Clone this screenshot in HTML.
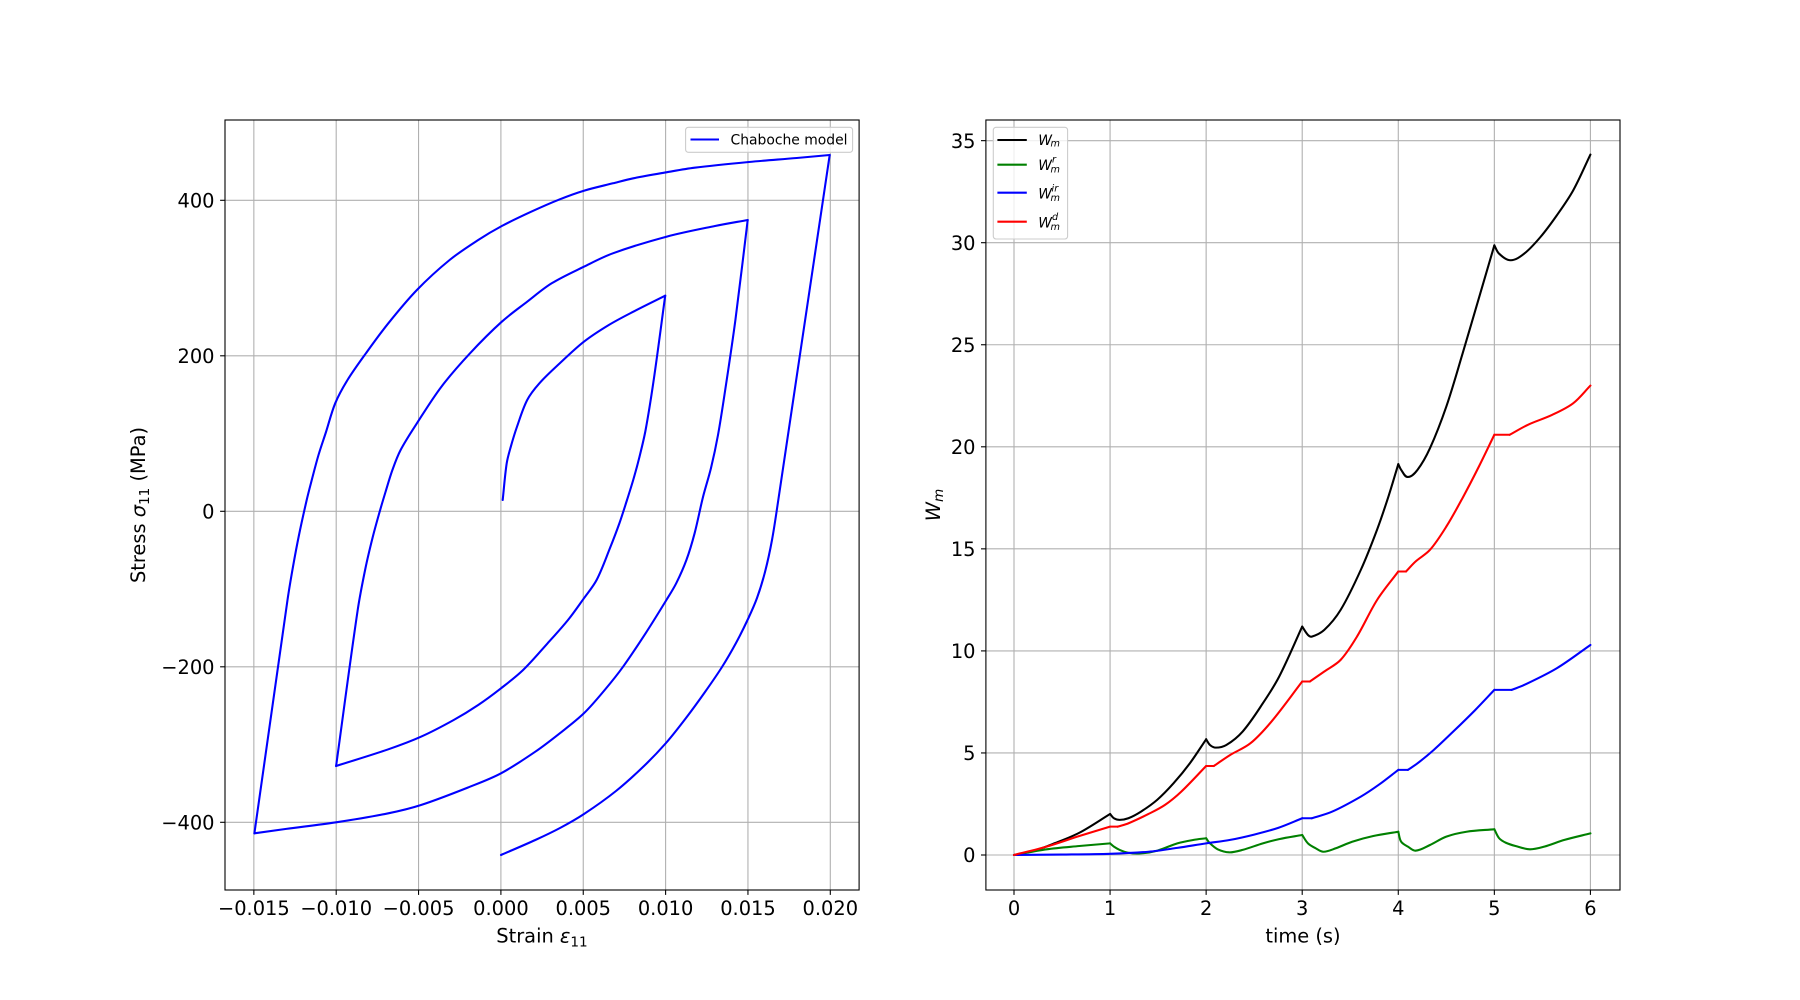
<!DOCTYPE html>
<html>
<head>
<meta charset="utf-8">
<style>
html,body{margin:0;padding:0;background:#fff;}
svg{display:block;}
text{font-family:"DejaVu Sans","Liberation Sans",sans-serif;fill:#000;}
.tk{font-size:19.4px;}
.lg{font-size:13.9px;}
.it{font-style:italic;}
</style>
</head>
<body>
<svg id="fig" width="1800" height="1000" viewBox="0 0 1800 1000" xmlns="http://www.w3.org/2000/svg">
<rect x="0" y="0" width="1800" height="1000" fill="#fff"/>

<!-- ================= LEFT AXES ================= -->
<g stroke="#b0b0b0" stroke-width="1.1" fill="none">
  <line x1="253.85" y1="120" x2="253.85" y2="890"/>
  <line x1="336.2" y1="120" x2="336.2" y2="890"/>
  <line x1="418.55" y1="120" x2="418.55" y2="890"/>
  <line x1="500.9" y1="120" x2="500.9" y2="890"/>
  <line x1="583.25" y1="120" x2="583.25" y2="890"/>
  <line x1="665.6" y1="120" x2="665.6" y2="890"/>
  <line x1="747.95" y1="120" x2="747.95" y2="890"/>
  <line x1="830.3" y1="120" x2="830.3" y2="890"/>
  <line x1="225" y1="822.3" x2="859.1" y2="822.3"/>
  <line x1="225" y1="666.8" x2="859.1" y2="666.8"/>
  <line x1="225" y1="511.3" x2="859.1" y2="511.3"/>
  <line x1="225" y1="355.8" x2="859.1" y2="355.8"/>
  <line x1="225" y1="200.3" x2="859.1" y2="200.3"/>
</g>

<g id="lg" fill="none" stroke="#0000ff" stroke-width="2.08" stroke-linejoin="round" stroke-linecap="round">
<polyline points="502.7,500 506.7,463.3 510.8,446.7 517,426.7 527.2,400 539.4,383.3 559.8,363.3 583.9,341.7 608.8,325 633.3,311.7 665.2,295.7"/>
<polyline points="665.2,295.7 653.7,380 645.6,430 639.5,456.7 633.5,479 627,500 619.5,523 610,548 596.6,580 583.9,598.3 568,620 547.6,643.3 523.1,670 501,688.3 478.2,705 453.7,720 421,736.7 388.3,749.3 336.1,766"/>
<polyline points="336.1,766 357.7,610 365.5,568 372.5,538 379,514 385.5,492 392.4,470 400.6,450 416.9,423.3 441.4,386.7 470,353.3 501.8,321.7 527.2,301.7 551.7,283.3 583.9,266.7 612.9,253.3 666.4,236.7 715,226 747.7,220"/>
<polyline points="747.7,220 735.4,320 725.2,390 718,435 711,468 703,497 694.6,533.3 686.4,560 676.2,583.3 666.4,600 645.6,633.3 623.1,666.7 604.7,690 583.9,713.3 559.8,733.3 535.3,751.7 501,773.3 470,786.7 421,805 388.3,813.3 336.1,822.3 286.3,828.9 254.4,833.3"/>
<polyline points="254.4,833.3 287.5,600 293,566.7 299,535 306.7,500 311.5,481 318.5,455 326,432 335.2,403.3 347.5,380 365.9,353.3 388.3,323.3 416.9,290 449.6,260 478.2,240 501.8,226 531.2,211.7 559.8,199.3 583.9,190.7 612.9,183.3 633.3,178.3 666.4,172.3 694.6,167.7 748.9,162 796.7,158 829.7,155"/>
<polyline points="829.7,155 778.3,500 772,540 765,572 757,598 748,619 736,643 722,667 705,692 686,718 666,743 644,766 616,791 584,814 560,828 535.3,840 501,855"/>
</g>

<rect x="225" y="120" width="634.1" height="770" fill="none" stroke="#000" stroke-width="1.1"/>

<!-- ticks left -->
<g stroke="#000" stroke-width="1.1">
  <line x1="253.85" y1="890" x2="253.85" y2="894.9"/>
  <line x1="336.2" y1="890" x2="336.2" y2="894.9"/>
  <line x1="418.55" y1="890" x2="418.55" y2="894.9"/>
  <line x1="500.9" y1="890" x2="500.9" y2="894.9"/>
  <line x1="583.25" y1="890" x2="583.25" y2="894.9"/>
  <line x1="665.6" y1="890" x2="665.6" y2="894.9"/>
  <line x1="747.95" y1="890" x2="747.95" y2="894.9"/>
  <line x1="830.3" y1="890" x2="830.3" y2="894.9"/>
  <line x1="220.1" y1="822.3" x2="225" y2="822.3"/>
  <line x1="220.1" y1="666.8" x2="225" y2="666.8"/>
  <line x1="220.1" y1="511.3" x2="225" y2="511.3"/>
  <line x1="220.1" y1="355.8" x2="225" y2="355.8"/>
  <line x1="220.1" y1="200.3" x2="225" y2="200.3"/>
</g>
<g class="tk" text-anchor="middle">
  <text x="253.85" y="915">−0.015</text>
  <text x="336.2" y="915">−0.010</text>
  <text x="418.55" y="915">−0.005</text>
  <text x="500.9" y="915">0.000</text>
  <text x="583.25" y="915">0.005</text>
  <text x="665.6" y="915">0.010</text>
  <text x="747.95" y="915">0.015</text>
  <text x="830.3" y="915">0.020</text>
</g>
<g class="tk" text-anchor="end">
  <text x="214.5" y="829.5">−400</text>
  <text x="214.5" y="674">−200</text>
  <text x="214.5" y="518.5">0</text>
  <text x="214.5" y="363">200</text>
  <text x="214.5" y="207.5">400</text>
</g>
<text class="tk" x="542" y="942.5" text-anchor="middle">Strain <tspan class="it">ε</tspan><tspan font-size="13.6" dy="4">11</tspan></text>
<text class="tk" transform="translate(145,505) rotate(-90)" text-anchor="middle">Stress <tspan class="it">σ</tspan><tspan font-size="13.6" dy="4">11</tspan><tspan dy="-4"> (MPa)</tspan></text>

<!-- left legend -->
<rect x="685.6" y="127.3" width="167" height="25" rx="2.8" ry="2.8" fill="#fff" fill-opacity="0.8" stroke="#cccccc" stroke-width="1.1"/>
<line x1="690.5" y1="139.5" x2="719" y2="139.5" stroke="#0000ff" stroke-width="2.08"/>
<text class="lg" x="730.5" y="144.5">Chaboche model</text>

<!-- ================= RIGHT AXES ================= -->
<g stroke="#b0b0b0" stroke-width="1.1" fill="none">
  <line x1="1014" y1="120" x2="1014" y2="890"/>
  <line x1="1110.07" y1="120" x2="1110.07" y2="890"/>
  <line x1="1206.14" y1="120" x2="1206.14" y2="890"/>
  <line x1="1302.21" y1="120" x2="1302.21" y2="890"/>
  <line x1="1398.28" y1="120" x2="1398.28" y2="890"/>
  <line x1="1494.35" y1="120" x2="1494.35" y2="890"/>
  <line x1="1590.42" y1="120" x2="1590.42" y2="890"/>
  <line x1="985.9" y1="855" x2="1620" y2="855"/>
  <line x1="985.9" y1="752.95" x2="1620" y2="752.95"/>
  <line x1="985.9" y1="650.9" x2="1620" y2="650.9"/>
  <line x1="985.9" y1="548.85" x2="1620" y2="548.85"/>
  <line x1="985.9" y1="446.8" x2="1620" y2="446.8"/>
  <line x1="985.9" y1="344.75" x2="1620" y2="344.75"/>
  <line x1="985.9" y1="242.7" x2="1620" y2="242.7"/>
  <line x1="985.9" y1="140.65" x2="1620" y2="140.65"/>
</g>

<g id="rg" transform="translate(1014,855) scale(96.07,-20.41)" fill="none" stroke-linejoin="round" stroke-linecap="round" stroke-width="2.08">
  <!-- black -->
  <polyline vector-effect="non-scaling-stroke" stroke="#000000" points="0,0 0.21,0.21 0.42,0.57 0.68,1.09 1,2.01"/>
  <polyline vector-effect="non-scaling-stroke" stroke="#000000" points="1,2.01 1.04,1.80 1.10,1.72 1.19,1.80 1.32,2.12 1.49,2.70 1.66,3.51 1.83,4.49 2,5.67"/>
  <polyline vector-effect="non-scaling-stroke" stroke="#000000" points="2,5.67 2.04,5.39 2.10,5.26 2.21,5.39 2.38,6.05 2.59,7.43 2.76,8.74 3,11.19"/>
  <polyline vector-effect="non-scaling-stroke" stroke="#000000" points="3,11.19 3.06,10.78 3.10,10.70 3.23,11.03 3.40,12.01 3.61,13.97 3.78,15.95 3.9,17.6 4,19.15"/>
  <polyline vector-effect="non-scaling-stroke" stroke="#000000" points="4,19.15 4.03,18.87 4.10,18.52 4.20,18.87 4.33,19.93 4.50,21.97 4.67,24.58 4.84,27.3 5,29.87"/>
  <polyline vector-effect="non-scaling-stroke" stroke="#000000" points="5,29.87 5.05,29.46 5.17,29.14 5.31,29.46 5.48,30.28 5.65,31.34 5.82,32.56 6,34.32"/>
  <!-- green -->
  <polyline vector-effect="non-scaling-stroke" stroke="#008000" points="0,0 0.34,0.28 0.68,0.44 1,0.57"/>
  <polyline vector-effect="non-scaling-stroke" stroke="#008000" points="1,0.57 1.04,0.41 1.10,0.25 1.19,0.11 1.32,0.08 1.49,0.21 1.70,0.57 1.87,0.74 2,0.82"/>
  <polyline vector-effect="non-scaling-stroke" stroke="#008000" points="2,0.82 2.04,0.57 2.12,0.28 2.24,0.13 2.38,0.25 2.59,0.57 2.76,0.78 3,0.98"/>
  <polyline vector-effect="non-scaling-stroke" stroke="#008000" points="3,0.98 3.06,0.57 3.14,0.33 3.22,0.16 3.35,0.33 3.52,0.65 3.74,0.93 4,1.14"/>
  <polyline vector-effect="non-scaling-stroke" stroke="#008000" points="4,1.14 4.03,0.65 4.10,0.41 4.18,0.21 4.33,0.49 4.50,0.90 4.71,1.14 5,1.26"/>
  <polyline vector-effect="non-scaling-stroke" stroke="#008000" points="5,1.26 5.05,0.82 5.12,0.60 5.22,0.44 5.37,0.28 5.52,0.41 5.73,0.74 6,1.06"/>
  <!-- blue -->
  <polyline vector-effect="non-scaling-stroke" stroke="#0000ff" points="0,0 0.5,0.02 1,0.06 1.4,0.16 1.7,0.35 2,0.57 2.25,0.74 2.5,1.0 2.75,1.33 3,1.80"/>
  <polyline vector-effect="non-scaling-stroke" stroke="#0000ff" points="3,1.80 3.1,1.80"/>
  <polyline vector-effect="non-scaling-stroke" stroke="#0000ff" points="3.1,1.80 3.31,2.12 3.61,2.86 3.8,3.45 4,4.17"/>
  <polyline vector-effect="non-scaling-stroke" stroke="#0000ff" points="4,4.17 4.10,4.17"/>
  <polyline vector-effect="non-scaling-stroke" stroke="#0000ff" points="4.10,4.17 4.20,4.49 4.37,5.15 4.59,6.13 4.8,7.1 5,8.09"/>
  <polyline vector-effect="non-scaling-stroke" stroke="#0000ff" points="5,8.09 5.18,8.09"/>
  <polyline vector-effect="non-scaling-stroke" stroke="#0000ff" points="5.18,8.09 5.31,8.33 5.65,9.15 6,10.29"/>
  <!-- red -->
  <polyline vector-effect="non-scaling-stroke" stroke="#ff0000" points="0,0 0.34,0.41 0.68,0.93 1,1.39"/>
  <polyline vector-effect="non-scaling-stroke" stroke="#ff0000" points="1,1.39 1.08,1.39"/>
  <polyline vector-effect="non-scaling-stroke" stroke="#ff0000" points="1.08,1.39 1.19,1.55 1.40,2.01 1.57,2.45 1.74,3.10 2,4.36"/>
  <polyline vector-effect="non-scaling-stroke" stroke="#ff0000" points="2,4.36 2.08,4.36"/>
  <polyline vector-effect="non-scaling-stroke" stroke="#ff0000" points="2.08,4.36 2.25,4.90 2.46,5.47 2.68,6.54 3,8.50"/>
  <polyline vector-effect="non-scaling-stroke" stroke="#ff0000" points="3,8.50 3.08,8.50"/>
  <polyline vector-effect="non-scaling-stroke" stroke="#ff0000" points="3.08,8.50 3.23,8.99 3.40,9.56 3.57,10.70 3.78,12.50 4,13.89"/>
  <polyline vector-effect="non-scaling-stroke" stroke="#ff0000" points="4,13.89 4.08,13.89"/>
  <polyline vector-effect="non-scaling-stroke" stroke="#ff0000" points="4.08,13.89 4.18,14.38 4.33,14.95 4.50,16.09 4.67,17.5 4.84,19.04 5,20.59"/>
  <polyline vector-effect="non-scaling-stroke" stroke="#ff0000" points="5,20.59 5.16,20.59"/>
  <polyline vector-effect="non-scaling-stroke" stroke="#ff0000" points="5.16,20.59 5.35,21.08 5.60,21.56 5.82,22.13 6,23.0"/>
</g>
<g id="rgout" fill="none" stroke-linejoin="round" stroke-linecap="round" stroke-width="2.08"></g>

<rect x="985.9" y="120" width="634.1" height="770" fill="none" stroke="#000" stroke-width="1.1"/>

<g stroke="#000" stroke-width="1.1">
  <line x1="1014" y1="890" x2="1014" y2="894.9"/>
  <line x1="1110.07" y1="890" x2="1110.07" y2="894.9"/>
  <line x1="1206.14" y1="890" x2="1206.14" y2="894.9"/>
  <line x1="1302.21" y1="890" x2="1302.21" y2="894.9"/>
  <line x1="1398.28" y1="890" x2="1398.28" y2="894.9"/>
  <line x1="1494.35" y1="890" x2="1494.35" y2="894.9"/>
  <line x1="1590.42" y1="890" x2="1590.42" y2="894.9"/>
  <line x1="981" y1="855" x2="985.9" y2="855"/>
  <line x1="981" y1="752.95" x2="985.9" y2="752.95"/>
  <line x1="981" y1="650.9" x2="985.9" y2="650.9"/>
  <line x1="981" y1="548.85" x2="985.9" y2="548.85"/>
  <line x1="981" y1="446.8" x2="985.9" y2="446.8"/>
  <line x1="981" y1="344.75" x2="985.9" y2="344.75"/>
  <line x1="981" y1="242.7" x2="985.9" y2="242.7"/>
  <line x1="981" y1="140.65" x2="985.9" y2="140.65"/>
</g>
<g class="tk" text-anchor="middle">
  <text x="1014" y="915">0</text>
  <text x="1110.07" y="915">1</text>
  <text x="1206.14" y="915">2</text>
  <text x="1302.21" y="915">3</text>
  <text x="1398.28" y="915">4</text>
  <text x="1494.35" y="915">5</text>
  <text x="1590.42" y="915">6</text>
</g>
<g class="tk" text-anchor="end">
  <text x="975.5" y="862.2">0</text>
  <text x="975.5" y="760.2">5</text>
  <text x="975.5" y="658.1">10</text>
  <text x="975.5" y="556.1">15</text>
  <text x="975.5" y="454">20</text>
  <text x="975.5" y="352">25</text>
  <text x="975.5" y="249.9">30</text>
  <text x="975.5" y="147.9">35</text>
</g>
<text class="tk" x="1303" y="942.5" text-anchor="middle">time (s)</text>
<text class="tk" transform="translate(940,505) rotate(-90)" text-anchor="middle"><tspan class="it">W</tspan><tspan class="it" font-size="13.6" dy="3">m</tspan></text>

<!-- right legend -->
<rect x="993.3" y="127.3" width="74.3" height="111.7" rx="2.8" ry="2.8" fill="#fff" fill-opacity="0.8" stroke="#cccccc" stroke-width="1.1"/>
<line x1="997.4" y1="140" x2="1026.8" y2="140" stroke="#000000" stroke-width="2.08"/>
<line x1="997.4" y1="164.7" x2="1026.8" y2="164.7" stroke="#008000" stroke-width="2.08"/>
<line x1="997.4" y1="192.7" x2="1026.8" y2="192.7" stroke="#0000ff" stroke-width="2.08"/>
<line x1="997.4" y1="221.7" x2="1026.8" y2="221.7" stroke="#ff0000" stroke-width="2.08"/>
<g class="lg it">
  <text x="1038.2" y="145">W</text>
  <text x="1050.5" y="146.5" font-size="9.7">m</text>

  <text x="1038.2" y="170">W</text>
  <text x="1052" y="162.7" font-size="9.7">r</text>
  <text x="1050.5" y="172.5" font-size="9.7">m</text>

  <text x="1038.2" y="198.7">W</text>
  <text x="1051.5" y="191.4" font-size="9.7">ir</text>
  <text x="1050.5" y="201.2" font-size="9.7">m</text>

  <text x="1038.2" y="227.3">W</text>
  <text x="1052" y="220" font-size="9.7">d</text>
  <text x="1050.5" y="229.8" font-size="9.7">m</text>
</g>
</svg>
<script>
(function(){
  var NS='http://www.w3.org/2000/svg';
  function parse(s){
    return s.trim().split(/\s+/).map(function(p){var a=p.split(',');return [parseFloat(a[0]),parseFloat(a[1])];});
  }
  function f(v){return v.toFixed(2);}
  function build(P){
    var n=P.length;
    var d='M'+f(P[0][0])+','+f(P[0][1]);
    if(n<3){for(var k=1;k<n;k++){d+=' L'+f(P[k][0])+','+f(P[k][1]);}return d;}
    var T=[];
    for(var i=0;i<n;i++){
      var a=P[i>0?i-1:0], b=P[i<n-1?i+1:n-1];
      var dx=b[0]-a[0], dy=b[1]-a[1];
      var l=Math.sqrt(dx*dx+dy*dy)||1;
      T.push([dx/l,dy/l]);
    }
    for(var i=0;i<n-1;i++){
      var p=P[i], q=P[i+1];
      var L=Math.sqrt((q[0]-p[0])*(q[0]-p[0])+(q[1]-p[1])*(q[1]-p[1]))/3;
      d+=' C'+f(p[0]+T[i][0]*L)+','+f(p[1]+T[i][1]*L)+' '+f(q[0]-T[i+1][0]*L)+','+f(q[1]-T[i+1][1]*L)+' '+f(q[0])+','+f(q[1]);
    }
    return d;
  }
  try{
    var lg=document.getElementById('lg');
    var lp=Array.prototype.slice.call(lg.getElementsByTagName('polyline'));
    lp.forEach(function(pl){
      var P=parse(pl.getAttribute('points'));
      var path=document.createElementNS(NS,'path');
      path.setAttribute('d',build(P));
      lg.appendChild(path);
      lg.removeChild(pl);
    });
    var rg=document.getElementById('rg');
    var out=document.getElementById('rgout');
    var rp=Array.prototype.slice.call(rg.getElementsByTagName('polyline'));
    rp.forEach(function(pl){
      var P=parse(pl.getAttribute('points')).map(function(p){return [1014+96.07*p[0],855-20.41*p[1]];});
      var path=document.createElementNS(NS,'path');
      path.setAttribute('d',build(P));
      path.setAttribute('stroke',pl.getAttribute('stroke'));
      out.appendChild(path);
    });
    rg.parentNode.removeChild(rg);
  }catch(e){}
})();
</script>
</body>
</html>
